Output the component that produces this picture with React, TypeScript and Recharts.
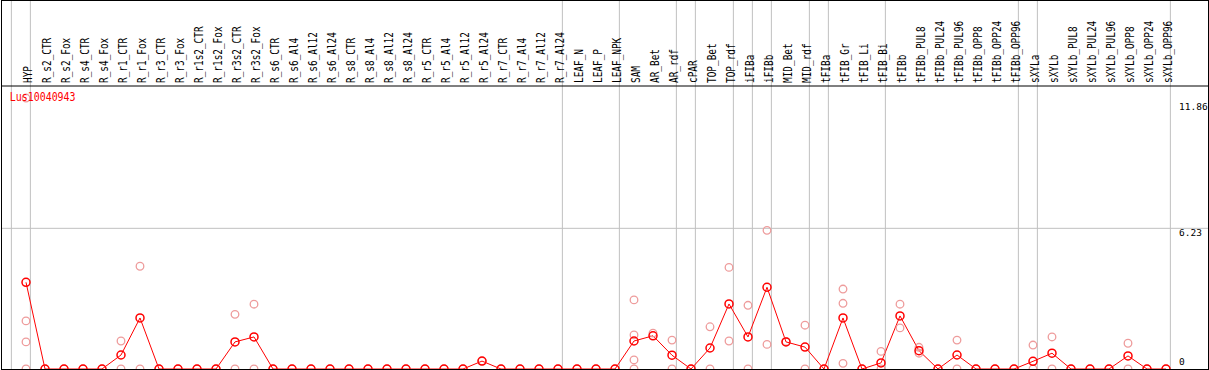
import React from 'react';
import { ComposedChart, Line, Scatter, XAxis, YAxis, ReferenceLine } from 'recharts';

const categories: string[] = [
  'HYP', 'R_s2_CTR', 'R_s2_Fox', 'R_s4_CTR', 'R_s4_Fox', 'R_r1_CTR', 'R_r1_Fox', 'R_r3_CTR', 'R_r3_Fox',
  'R_r1s2_CTR', 'R_r1s2_Fox', 'R_r3s2_CTR', 'R_r3s2_Fox', 'R_s6_CTR', 'R_s6_Al4', 'R_s6_Al12', 'R_s6_Al24',
  'R_s8_CTR', 'R_s8_Al4', 'R_s8_Al12', 'R_s8_Al24', 'R_r5_CTR', 'R_r5_Al4', 'R_r5_Al12', 'R_r5_Al24',
  'R_r7_CTR', 'R_r7_Al4', 'R_r7_Al12', 'R_r7_Al24', 'LEAF_N', 'LEAF_P', 'LEAF_NPK', 'SAM', 'AR_Bet', 'AR_rdf',
  'cPAR', 'TOP_Bet', 'TOP_rdf', 'iFIBa', 'iFIBb', 'MID_Bet', 'MID_rdf', 'tFIBa', 'tFIB_Gr', 'tFIB_Li', 'tFIB_Bi',
  'tFIBb', 'tFIBb_PUL8', 'tFIBb_PUL24', 'tFIBb_PUL96', 'tFIBb_OPP8', 'tFIBb_OPP24', 'tFIBb_OPP96', 'sXYLa',
  'sXYLb', 'sXYLb_PUL8', 'sXYLb_PUL24', 'sXYLb_PUL96', 'sXYLb_OPP8', 'sXYLb_OPP24', 'sXYLb_OPP96',
];

const meanValues: number[] = [
  3.84, 0, 0, 0, 0, 0.62, 2.26, 0, 0,
  0, 0, 1.2, 1.42, 0, 0, 0, 0,
  0, 0, 0, 0, 0, 0, 0, 0.35,
  0, 0, 0, 0, 0, 0, 0, 1.24, 1.47, 0.61,
  0, 0.93, 2.88, 1.42, 3.62, 1.2, 0.97, 0, 2.26, 0, 0.27,
  2.35, 0.81, 0, 0.62, 0, 0, 0, 0.34,
  0.7, 0, 0, 0, 0.58, 0, 0,
];

const rep1: (number | null)[] = [
  12.0, 0, 0, 0, 0, 1.24, 4.55, 0, 0,
  0, 0, 2.42, 2.87, 0, 0, 0, 0,
  0, 0, 0, 0, 0, 0, 0, 0.35,
  0, 0, 0, 0, 0, 0, 0, 3.06, 1.59, 1.28,
  0, 1.87, 4.5, 2.82, 6.14, 1.22, 1.94, 0, 3.54, 0, 0.78,
  2.87, 0.96, 0, 1.28, 0, 0, 0, 1.06,
  1.42, 0, 0, 0, 1.14, 0, 0,
];

const rep2: (number | null)[] = [
  2.13, null, null, null, null, 0, 0, null, null,
  null, null, 0, 0, null, null, null, null,
  null, null, null, null, null, null, null, null,
  null, null, null, null, null, null, null, 1.51, null, 0,
  null, 0, 1.24, 0, 1.09, null, 0, null, 2.91, null, 0,
  1.82, 0.7, null, 0, null, null, null, 0,
  0, null, null, null, 0, null, null,
];

const rep3: (number | null)[] = categories.map((c) =>
  c === 'HYP' ? 1.2 : c === 'SAM' ? 0.4 : c === 'tFIB_Gr' ? 0.25 : null
);

const rep4: (number | null)[] = categories.map((c) =>
  c === 'HYP' ? 0 : c === 'SAM' ? 0 : null
);

const separatorsAfter: number[] = [-1, 0, 28, 31, 34, 35, 37, 38, 39, 41, 42, 45, 52, 53, 60];
const yTicks: number[] = [0, 6.23, 11.86];
const geneName = 'Lus10040943';

const CHART_W = 1206;
const CHART_H = 368;
const X_MIN = -24 / 19;
const X_MAX = X_MIN + CHART_W / 19;
const Y_MAX = 12.533;

const chartData = categories.map((c, i) => ({ x: i, name: c, mean: meanValues[i] }));
const repSeries = [rep1, rep2, rep3, rep4].map((arr) =>
  arr
    .map((v, i) => (v === null ? null : { x: i, y: v }))
    .filter((p): p is { x: number; y: number } => p !== null)
);

const MONO = 'DejaVu Sans Mono';

const CatTick = (props: any) => {
  const { x, payload } = props;
  const label = categories[payload.value];
  if (label === undefined) return null;
  const bx = Math.round(x + 4.5) + 0.5;
  const by = 82;
  return (
    <text
      transform={`translate(${bx},${by}) rotate(-90) scale(0.785,1)`}
      x={0}
      y={0}
      fontFamily={MONO}
      fontSize={12}
      fill="#000"
      textAnchor="start"
    >
      {label}
    </text>
  );
};

const YTick = (props: any) => {
  const { y, payload } = props;
  const v = payload.value;
  const dy = v === 0 ? -3.7 : v === 6.23 ? 7.4 : 9.1;
  return (
    <text x={1177} y={y + dy} fontFamily={MONO} fontSize={9.5} fill="#000" textAnchor="start">
      {String(v)}
    </text>
  );
};

const RepDot = (props: any) => {
  const { cx, cy } = props;
  if (cx == null || cy == null) return <g />;
  return <circle cx={cx} cy={cy} r={3.8} fill="none" stroke="#ee9c9c" strokeWidth={1.3} />;
};

export default function App() {
  return (
    <div
      style={{
        position: 'absolute',
        left: 1,
        top: 0,
        width: 1208,
        height: 370,
        border: '1px solid #000',
        boxSizing: 'border-box',
        background: '#fff',
      }}
    >
      <ComposedChart
        width={CHART_W}
        height={CHART_H}
        data={chartData}
        margin={{ top: 0, right: 0, bottom: 0, left: 0 }}
      >
        <XAxis
          dataKey="x"
          type="number"
          orientation="top"
          domain={[X_MIN, X_MAX]}
          ticks={categories.map((_, i) => i)}
          interval={0}
          height={85}
          tickLine={false}
          axisLine={{ stroke: '#000', strokeWidth: 1 }}
          tick={<CatTick />}
          allowDataOverflow
        />
        <YAxis
          type="number"
          orientation="right"
          mirror
          width={40}
          domain={[0, Y_MAX]}
          ticks={yTicks}
          interval={0}
          axisLine={false}
          tickLine={false}
          tick={<YTick />}
          allowDataOverflow
        />
        {separatorsAfter.map((s) => (
          <ReferenceLine
            key={`sep-${s}`}
            segment={[
              { x: s + 0.23, y: 0 },
              { x: s + 0.23, y: Y_MAX + 4.5 },
            ]}
            stroke="#c0c0c0"
            strokeWidth={1}
            ifOverflow="visible"
          />
        ))}
        <ReferenceLine y={6.23} stroke="#c0c0c0" strokeWidth={1} ifOverflow="visible" />
        {repSeries.map((d, k) => (
          <Scatter
            key={`rep-${k}`}
            data={d}
            dataKey="y"
            shape={<RepDot />}
            isAnimationActive={false}
          />
        ))}
        <Line
          dataKey="mean"
          stroke="#ff0000"
          strokeWidth={1}
          dot={{ r: 4, stroke: '#ff0000', strokeWidth: 1.5, fill: 'none' }}
          activeDot={false}
          isAnimationActive={false}
        />
      </ComposedChart>
      <svg
        width={CHART_W}
        height={CHART_H}
        style={{ position: 'absolute', left: 0, top: 0, pointerEvents: 'none' }}
      >
        <text
          transform="translate(7.7,100) scale(0.83,1)"
          fontFamily={MONO}
          fontSize={12}
          fill="#ff0000"
        >
          {geneName}
        </text>
      </svg>
    </div>
  );
}
